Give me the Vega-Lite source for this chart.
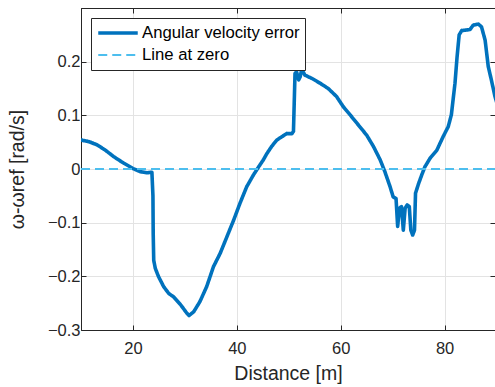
{
  "$schema": "https://vega.github.io/schema/vega-lite/v6.json",
  "width": 414,
  "height": 322,
  "autosize": {"type": "none"},
  "padding": {"left": 81, "top": 8, "right": 0, "bottom": 57},
  "background": "white",
  "data": {"values": [
    {"d": 10, "e": 0.054, "s": "Angular velocity error"},
    {"d": 11.5, "e": 0.051, "s": "Angular velocity error"},
    {"d": 13.1, "e": 0.045, "s": "Angular velocity error"},
    {"d": 14.7, "e": 0.035, "s": "Angular velocity error"},
    {"d": 16.3, "e": 0.023, "s": "Angular velocity error"},
    {"d": 18.2, "e": 0.011, "s": "Angular velocity error"},
    {"d": 20, "e": 0.001, "s": "Angular velocity error"},
    {"d": 21.4, "e": -0.005, "s": "Angular velocity error"},
    {"d": 22.7, "e": -0.007, "s": "Angular velocity error"},
    {"d": 23.65, "e": -0.006, "s": "Angular velocity error"},
    {"d": 23.85, "e": -0.05, "s": "Angular velocity error"},
    {"d": 23.9, "e": -0.12, "s": "Angular velocity error"},
    {"d": 24.0, "e": -0.17, "s": "Angular velocity error"},
    {"d": 24.3, "e": -0.185, "s": "Angular velocity error"},
    {"d": 24.9, "e": -0.2, "s": "Angular velocity error"},
    {"d": 25.9, "e": -0.219, "s": "Angular velocity error"},
    {"d": 26.9, "e": -0.232, "s": "Angular velocity error"},
    {"d": 27.8, "e": -0.238, "s": "Angular velocity error"},
    {"d": 29.1, "e": -0.252, "s": "Angular velocity error"},
    {"d": 30.4, "e": -0.269, "s": "Angular velocity error"},
    {"d": 30.8, "e": -0.273, "s": "Angular velocity error"},
    {"d": 31.7, "e": -0.266, "s": "Angular velocity error"},
    {"d": 32.9, "e": -0.247, "s": "Angular velocity error"},
    {"d": 34.2, "e": -0.219, "s": "Angular velocity error"},
    {"d": 35.5, "e": -0.182, "s": "Angular velocity error"},
    {"d": 36.8, "e": -0.157, "s": "Angular velocity error"},
    {"d": 38.1, "e": -0.126, "s": "Angular velocity error"},
    {"d": 39.4, "e": -0.095, "s": "Angular velocity error"},
    {"d": 40.6, "e": -0.064, "s": "Angular velocity error"},
    {"d": 41.9, "e": -0.033, "s": "Angular velocity error"},
    {"d": 43.2, "e": -0.011, "s": "Angular velocity error"},
    {"d": 44.2, "e": 0.004, "s": "Angular velocity error"},
    {"d": 45.1, "e": 0.017, "s": "Angular velocity error"},
    {"d": 45.8, "e": 0.029, "s": "Angular velocity error"},
    {"d": 46.7, "e": 0.042, "s": "Angular velocity error"},
    {"d": 47.7, "e": 0.054, "s": "Angular velocity error"},
    {"d": 48.65, "e": 0.06, "s": "Angular velocity error"},
    {"d": 49.6, "e": 0.066, "s": "Angular velocity error"},
    {"d": 50.6, "e": 0.066, "s": "Angular velocity error"},
    {"d": 50.9, "e": 0.07, "s": "Angular velocity error"},
    {"d": 51.2, "e": 0.178, "s": "Angular velocity error"},
    {"d": 51.5, "e": 0.181, "s": "Angular velocity error"},
    {"d": 51.9, "e": 0.166, "s": "Angular velocity error"},
    {"d": 52.2, "e": 0.172, "s": "Angular velocity error"},
    {"d": 52.5, "e": 0.186, "s": "Angular velocity error"},
    {"d": 53.1, "e": 0.175, "s": "Angular velocity error"},
    {"d": 54.4, "e": 0.169, "s": "Angular velocity error"},
    {"d": 56.0, "e": 0.16, "s": "Angular velocity error"},
    {"d": 57.6, "e": 0.15, "s": "Angular velocity error"},
    {"d": 59.2, "e": 0.135, "s": "Angular velocity error"},
    {"d": 60.5, "e": 0.116, "s": "Angular velocity error"},
    {"d": 61.8, "e": 0.101, "s": "Angular velocity error"},
    {"d": 63.4, "e": 0.082, "s": "Angular velocity error"},
    {"d": 65.0, "e": 0.063, "s": "Angular velocity error"},
    {"d": 66.3, "e": 0.042, "s": "Angular velocity error"},
    {"d": 67.6, "e": 0.017, "s": "Angular velocity error"},
    {"d": 68.5, "e": -0.005, "s": "Angular velocity error"},
    {"d": 69.5, "e": -0.033, "s": "Angular velocity error"},
    {"d": 70.1, "e": -0.052, "s": "Angular velocity error"},
    {"d": 70.65, "e": -0.055, "s": "Angular velocity error"},
    {"d": 70.96, "e": -0.107, "s": "Angular velocity error"},
    {"d": 71.3, "e": -0.073, "s": "Angular velocity error"},
    {"d": 71.7, "e": -0.07, "s": "Angular velocity error"},
    {"d": 72.05, "e": -0.114, "s": "Angular velocity error"},
    {"d": 72.4, "e": -0.073, "s": "Angular velocity error"},
    {"d": 72.8, "e": -0.067, "s": "Angular velocity error"},
    {"d": 73.2, "e": -0.07, "s": "Angular velocity error"},
    {"d": 73.5, "e": -0.114, "s": "Angular velocity error"},
    {"d": 73.85, "e": -0.123, "s": "Angular velocity error"},
    {"d": 74.2, "e": -0.114, "s": "Angular velocity error"},
    {"d": 74.4, "e": -0.045, "s": "Angular velocity error"},
    {"d": 75.0, "e": -0.027, "s": "Angular velocity error"},
    {"d": 75.6, "e": -0.011, "s": "Angular velocity error"},
    {"d": 76.2, "e": 0.004, "s": "Angular velocity error"},
    {"d": 77.2, "e": 0.02, "s": "Angular velocity error"},
    {"d": 78.5, "e": 0.035, "s": "Angular velocity error"},
    {"d": 79.7, "e": 0.06, "s": "Angular velocity error"},
    {"d": 80.7, "e": 0.079, "s": "Angular velocity error"},
    {"d": 81.3, "e": 0.101, "s": "Angular velocity error"},
    {"d": 82.0, "e": 0.16, "s": "Angular velocity error"},
    {"d": 82.4, "e": 0.209, "s": "Angular velocity error"},
    {"d": 82.8, "e": 0.25, "s": "Angular velocity error"},
    {"d": 83.3, "e": 0.258, "s": "Angular velocity error"},
    {"d": 84.2, "e": 0.259, "s": "Angular velocity error"},
    {"d": 84.9, "e": 0.26, "s": "Angular velocity error"},
    {"d": 85.5, "e": 0.268, "s": "Angular velocity error"},
    {"d": 86.5, "e": 0.27, "s": "Angular velocity error"},
    {"d": 87.1, "e": 0.265, "s": "Angular velocity error"},
    {"d": 87.8, "e": 0.24, "s": "Angular velocity error"},
    {"d": 88.4, "e": 0.191, "s": "Angular velocity error"},
    {"d": 89.0, "e": 0.166, "s": "Angular velocity error"},
    {"d": 89.7, "e": 0.135, "s": "Angular velocity error"},
    {"d": 90, "e": 0.125, "s": "Angular velocity error"},
    {"d": 10, "e": 0, "s": "Line at zero"},
    {"d": 90, "e": 0, "s": "Line at zero"}
  ]},
  "encoding": {
    "x": {"field": "d", "type": "quantitative", "scale": {"domain": [10, 89.7], "nice": false, "zero": false}},
    "y": {"field": "e", "type": "quantitative", "scale": {"domain": [-0.3, 0.3], "nice": false, "zero": false}},
    "color": {"field": "s", "type": "nominal",
      "scale": {"domain": ["Angular velocity error", "Line at zero"], "range": ["#0072BD", "#4DBEEE"]},
      "legend": {"orient": "none", "legendX": 10, "legendY": 10, "title": null, "strokeColor": "#262626", "fillColor": "white",
        "padding": 5, "symbolType": "stroke", "symbolSize": 1560, "labelFontSize": 16.7, "labelColor": "#000000",
        "clipHeight": 20, "rowPadding": 2, "labelOffset": 2, "cornerRadius": 0}},
    "strokeDash": {"field": "s", "type": "nominal", "scale": {"domain": ["Angular velocity error", "Line at zero"], "range": [[1, 0], [9, 5]]}},
    "strokeWidth": {"field": "s", "type": "nominal", "scale": {"domain": ["Angular velocity error", "Line at zero"], "range": [3.6, 2]}}
  },
  "layer": [
    {
      "transform": [{"filter": "datum.s == 'Angular velocity error'"}],
      "mark": {"type": "line", "clip": true, "strokeJoin": "round", "strokeCap": "round"},
      "encoding": {
        "x": {"field": "d", "type": "quantitative", "axis": {"orient": "bottom", "values": [20, 40, 60, 80], "title": "Distance [m]", "grid": true, "labelPadding": 15, "titlePadding": 8}},
        "y": {"field": "e", "type": "quantitative", "axis": {"orient": "left", "values": [-0.3, -0.2, -0.1, 0, 0.1, 0.2], "format": "~g", "title": "ω-ωref [rad/s]", "grid": true, "labelPadding": 6, "titlePadding": 20}}
      }
    },
    {
      "transform": [{"filter": "datum.s == 'Line at zero'"}],
      "mark": {"type": "line", "clip": true},
      "encoding": {
        "x": {"field": "d", "type": "quantitative", "axis": {"orient": "top", "values": [20, 40, 60, 80], "title": null, "labels": false, "grid": false}},
        "y": {"field": "e", "type": "quantitative", "axis": {"orient": "right", "values": [-0.3, -0.2, -0.1, 0, 0.1, 0.2], "title": null, "labels": false, "grid": false}}
      }
    }
  ],
  "resolve": {"axis": {"x": "independent", "y": "independent"}},
  "config": {
    "font": "Liberation Sans",
    "view": {"stroke": "#262626", "strokeWidth": 1},
    "axis": {"domainColor": "#262626", "tickColor": "#262626", "labelColor": "#262626", "titleColor": "#262626",
      "gridColor": "#e3e3e3", "gridWidth": 1, "labelFontSize": 16.5, "titleFontSize": 19.5, "titleFontWeight": "normal",
      "tickSize": -5, "domainWidth": 1}
  }
}
